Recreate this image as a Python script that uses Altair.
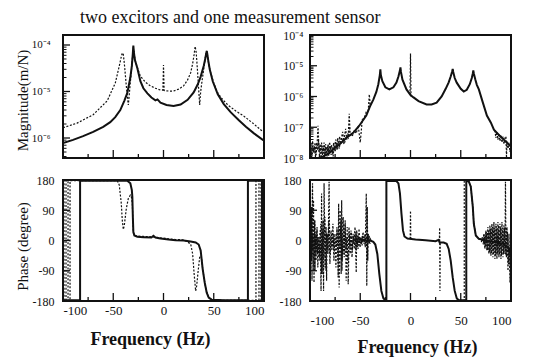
import altair as alt
import pandas as pd

FONT = "Liberation Serif"
INK = "#111111"

# ---------------- top-left magnitude (log10 of m/N) ----------------
TL_F_SOLID = [-100, -90, -80, -70, -60, -53, -48, -43, -39, -36, -33, -31.5, -30.5, -30, -29.5, -28.5,
              -26, -23, -20, -16, -12, -8, -6, -3, 3, 10, 17, 24, 30, 34, 37, 40, 41.5, 42.5, 43, 43.5,
              44.5, 46, 49, 54, 60, 67, 75, 82, 90, 100]
TL_M_SOLID = [-6.11, -6.04, -5.96, -5.87, -5.76, -5.66, -5.55, -5.40, -5.20, -5.03, -4.70, -4.45, -4.18,
              -4.01, -4.15, -4.32, -4.50, -4.78, -4.93, -5.04, -5.13, -5.19, -5.17, -5.24, -5.29, -5.31,
              -5.28, -5.18, -5.02, -4.85, -4.68, -4.45, -4.30, -4.18, -4.13, -4.18, -4.33, -4.52, -4.78,
              -5.06, -5.27, -5.45, -5.62, -5.76, -5.90, -6.06]
TL_F_DOT = [-100, -86, -70, -56, -48, -44, -42, -41, -40, -39, -37, -35.5, -35, -34, -33, -31.5, -30.5,
            -30, -29.5, -28, -25, -23, -18, -13, -8, -3, -0.6, 0, 0.6, 5, 10, 15, 20, 24, 27, 29, 30.5,
            31.5, 32.5, 33.5, 35, 36, 37, 38.5, 40.5, 42, 43, 44, 45, 47, 50, 54, 58, 64, 72, 80, 90, 97, 100]
TL_M_DOT = [-5.78, -5.68, -5.50, -5.20, -4.82, -4.45, -4.25, -4.17, -4.20, -4.39, -4.88, -5.20, -5.29,
            -5.05, -4.80, -4.45, -4.15, -4.05, -4.15, -4.35, -4.55, -4.67, -4.80, -4.88, -4.93, -4.97,
            -4.97, -4.43, -4.98, -4.99, -4.99, -4.95, -4.88, -4.75, -4.60, -4.40, -4.20, -4.03, -4.15,
            -4.45, -4.95, -5.29, -5.00, -4.75, -4.45, -4.20, -4.13, -4.25, -4.42, -4.60, -4.82, -5.03,
            -5.15, -5.29, -5.42, -5.53, -5.70, -5.83, -5.87]

# ---------------- top-right magnitude ----------------
TR_F_SOLID = [-92, -87, -81, -76, -71, -64, -57, -51, -44, -40, -37, -34, -32, -30.5, -30, -29.5, -28,
              -25, -21, -17, -14, -12, -10.5, -10, -9.5, -8, -4, 0, 3, 8, 16, 21, 26, 31, 35, 38, 40,
              41.5, 42, 42.5, 44, 46, 50, 53, 56, 59, 61, 62, 62.5, 63, 64.5, 66, 68, 72, 76, 80, 83,
              88, 93, 98, 100]
TR_M_SOLID = [-8.0, -7.95, -7.84, -7.70, -7.57, -7.35, -7.18, -6.95, -6.62, -6.30, -6.10, -5.85, -5.60,
              -5.30, -5.12, -5.30, -5.50, -5.70, -5.77, -5.70, -5.55, -5.35, -5.15, -5.05, -5.20, -5.45,
              -5.77, -5.95, -6.03, -6.15, -6.26, -6.26, -6.20, -6.00, -5.75, -5.54, -5.35, -5.18, -5.10,
              -5.20, -5.40, -5.55, -5.75, -5.84, -5.78, -5.60, -5.40, -5.25, -5.15, -5.25, -5.45, -5.62,
              -5.77, -6.20, -6.62, -6.85, -7.08, -7.25, -7.41, -7.57, -7.62]
TR_F_NOISE_L = [-100, -99, -98, -97, -96, -95, -94, -93, -92, -91, -90, -89, -88, -87, -86, -85, -84,
                -83, -82, -81, -80, -79, -78, -77, -76, -75, -74, -73, -72, -71, -70, -68, -66, -64,
                -62, -61, -60, -58, -56, -54, -52, -50, -48, -46, -44, -42, -41, -40]
TR_M_NOISE_L = [-7.90, -7.55, -7.95, -7.65, -7.85, -7.50, -7.90, -7.60, -6.95, -7.80, -7.55, -7.95,
                -7.60, -7.85, -7.50, -7.90, -7.65, -7.95, -7.55, -7.85, -7.60, -7.90, -7.70, -7.95,
                -7.60, -7.80, -7.55, -7.75, -7.45, -7.70, -7.50, -7.40, -7.55, -7.30, -7.35, -6.56,
                -7.25, -7.30, -7.10, -7.20, -6.95, -7.50, -6.75, -6.70, -6.50, -6.45, -5.93, -6.30]
TR_F_NOISE_L2 = [-99.5, -98.5, -97.5, -96.5, -95.5, -94.5, -93.5, -92.5, -91.5, -90.5, -89.5, -88.5,
                 -87.5, -86.5, -85.5, -84.5, -83.5, -82.5, -81.5, -80.5, -79.5, -78.5, -77.5, -76.5,
                 -75.5, -74.5, -73.5, -72.5, -71.5, -70.5, -69.5, -68.5, -67.5, -66.5, -65.5, -64.5,
                 -63.5, -62.5, -61.5, -60.5]
TR_M_NOISE_L2 = [-7.70, -7.98, -7.45, -7.80, -7.62, -7.98, -7.50, -7.75, -7.45, -7.98, -7.70, -7.50,
                 -7.90, -7.65, -7.98, -7.55, -7.80, -7.62, -7.95, -7.48, -7.75, -7.58, -7.85, -7.50,
                 -7.70, -7.40, -7.65, -7.35, -7.60, -7.30, -7.55, -7.32, -7.15, -7.45, -7.25, -7.05,
                 -7.40, -7.20, -7.30, -7.00]
TR_F_SPIKE = [-0.5, 0, 0.5]
TR_M_SPIKE = [-5.95, -4.60, -6.00]
TR_F_NOISE_R = [84, 85, 86, 87, 88, 89, 90, 91, 92, 93, 94, 95, 95.5, 96, 97, 98, 99, 100]
TR_M_NOISE_R = [-7.10, -7.35, -7.15, -7.40, -7.20, -7.45, -7.25, -7.50, -7.30, -7.55, -7.35, -7.30,
                -8.00, -7.45, -7.70, -7.50, -7.80, -7.60]

# ---------------- bottom-left phase (degree) ----------------
BL_F_SOLID = [-100, -83, -83, -36, -33, -31.5, -31, -30.5, -30, -29, -26, -20, -12, -10, -8, -3, 5, 12,
              20, 27, 32, 35, 37, 39, 41, 43, 45, 48, 60, 84, 84, 98, 98, 100]
BL_P_SOLID = [-178, -178, 178, 178, 170, 150, 130, 70, 25, 15, 11, 10, 9, 14, 9, 6, 3, 1, 0, -3, -6,
              -12, -30, -85, -125, -155, -170, -176, -178, -178, 178, 178, -178, -178]
BL_F_DOT = [-100, -99, -99, -97, -97, -95, -95, -93, -93, -46, -44, -42, -41, -40, -39, -37, -35, -33,
            -32, -31, -30.5, -30, -29, -26, -20, -12, -3, 5, 12, 20, 27, 29, 30.5, 32, 33, 34.5, 36,
            37.5, 39, 41, 43, 45, 48, 60, 92, 92, 95, 95, 97, 97, 100]
BL_P_DOT = [178, 178, -178, -178, 178, 178, -178, -178, 178, 178, 165, 110, 60, 33, 45, 95, 125, 135,
            130, 110, 60, 25, 16, 13, 12, 11, 8, 5, 3, 2, -10, -40, -100, -150, -135, -90, -50, -45,
            -85, -125, -155, -170, -176, -178, -178, 178, 178, -178, -178, 178, 178]

# ---------------- bottom-right phase (degree) ----------------
BR_F_SOLID = [-52, -45, -40, -37, -35, -33, -31, -29, -27, -25, -24, -24, -14, -12, -10.5, -9, -7.5, -6,
              -3, 5, 15, 25, 28, 29, 33, 36, 38, 40, 42, 44, 46, 48, 55.5, 55.5, 58, 60, 62, 63, 65,
              68, 72, 78, 85, 92, 97, 100]
BR_P_SOLID = [3, 1, 0, -4, -12, -40, -100, -150, -172, -178, -178, 178, 177, 170, 140, 80, 30, 12, 6,
              3, 1, -2, 2, -6, -6, -10, -25, -60, -110, -150, -172, -178, -178, 178, 176, 160, 100,
              50, 15, 5, 2, -2, -5, -10, -20, -40]
BR_F_NOISE_L = [-99.5, -99, -98.5, -98, -97.5, -97, -96.5, -96, -95.5, -95, -94.5, -94, -93, -92.5, -92,
                -91, -90, -89, -88.5, -88, -87, -86.5, -86, -85, -84, -83.5, -83, -82, -81, -80.5, -80,
                -79, -78, -77, -76, -75, -74, -73, -72, -71.5, -71, -70, -69, -68.5, -68, -67, -66,
                -65, -64, -63, -62, -61, -60, -59, -58, -57, -56, -55, -54, -53.5, -53, -52, -51, -50,
                -49, -48, -47, -46, -45, -44, -43.5, -43, -42.5, -42, -41, -40, -39]
BR_P_NOISE_L = [150, -60, 100, -120, 170, -30, 120, -125, 60, -90, 20, -60, 40, -40, 10, -50, 30, -150,
                140, -100, 60, -150, 170, -80, 40, -120, 20, -30, 175, 0, -40, 30, -20, 20, -30, 10,
                -20, 30, -110, 110, -140, 90, -100, 120, -60, 70, -50, 60, -120, 40, -130, 20, -40, 25,
                -30, 15, -25, 20, -95, 30, -20, 15, -15, 10, -10, 15, -5, 10, -20, 140, -135, 100, -60,
                20, -10, 5, 0]
BR_F_NOISE_L2 = [-99.2, -98.2, -97.2, -96.2, -95.2, -94.2, -93.2, -92.2, -91.2, -90.2, -89.2, -88.2,
                 -87.2, -86.2, -85.2, -84.2, -83.2, -82.2, -81.2, -80.2, -79.2, -78.2, -77.2, -76.2,
                 -75.2, -74.2, -73.2, -72.2, -71.2, -70.2, -69.2, -68.2, -67.2, -66.2, -65.2, -64.2,
                 -63.2, -62.2, -61.2, -60.2, -59.2, -58.2, -57.2, -56.2, -55.2, -54.2, -53.2, -52.2,
                 -51.2, -50.2, -49.2, -48.2, -47.2, -46.2, -45.2, -44.2, -43.2, -42.2, -41.2, -40.2]
BR_P_NOISE_L2 = [40, -70, 20, -90, 60, -40, 30, -80, 10, -60, 50, -100, 30, -50, 70, -90, 20, -40, 60,
                 -70, 10, -30, 50, -60, 20, -80, 40, -50, 30, -20, 60, -90, 20, -40, 50, -30, 10, -60,
                 40, -20, 30, -50, 20, -10, 40, -30, 15, -25, 35, -20, 10, -15, 25, -10, 20, -15, 10,
                 -5, 15, -10]
BR_F_SPIKE0 = [-0.3, 0, 0.3]
BR_P_SPIKE0 = [5, 88, 5]
BR_F_SPIKE29 = [28.7, 29, 29.3, 29.6]
BR_P_SPIKE29 = [-2, 38, -150, -4]
BR_F_WRAP = [46, 48, 53.5, 53.5, 55.5, 58, 60, 62, 63, 65, 68, 72]
BR_P_WRAP = [-172, -178, -178, 178, 178, 176, 160, 100, 50, 15, 5, 2]
BR_F_NOISE_R = [72, 73, 74, 75, 76, 77, 78, 79, 80, 81, 82, 83, 84, 85, 86, 87, 88, 89, 90, 91, 92, 93,
                94, 94.5, 95, 96, 97, 98, 99, 100]
BR_P_NOISE_R = [2, 20, -25, 30, -30, 40, -40, 45, -45, 50, -50, 55, -55, 50, -55, 55, -50, 50, -55, 55,
                -50, 45, -40, 175, -45, 40, -90, 20, -125, -60]
BR_F_NOISE_R2 = [70.5, 71.5, 72.5, 73.5, 74.5, 75.5, 76.5, 77.5, 78.5, 79.5, 80.5, 81.5, 82.5, 83.5,
                 84.5, 85.5, 86.5, 87.5, 88.5, 89.5, 90.5, 91.5, 92.5, 93.5, 95.5, 96.5, 97.5, 98.5, 99.5]
BR_P_NOISE_R2 = [-5, 10, -12, 18, -20, 25, -28, 30, -35, 35, -38, 40, -42, 38, -45, 42, -40, 45, -42,
                 40, -45, 38, -40, 35, -50, 25, -70, -20, -100]

X_TICKS_MAJOR = [-50, 0, 50]
X_TICKS_MINOR = [-75, -25, 25, 75]
PHASE_TICKS = [-90, 0, 90]


def frame(f, v, seg=0):
    return pd.DataFrame({"f": f, "v": v, "seg": seg, "i": range(len(f))})


def logframe(f, m, seg=0):
    return frame(f, [10 ** x for x in m], seg)


def build(solid, dotted, yscale, yaxis, xaxis, w, h, ymajor, yminor, major_len=8, minor_len=4):
    xs = alt.Scale(domain=[-100, 100], nice=False, zero=False)
    X = lambda: alt.X("f:Q", scale=xs, axis=xaxis)
    Y = lambda: alt.Y("v:Q", scale=yscale, axis=yaxis)
    layers = [
        alt.Chart(dotted).mark_line(color=INK, strokeWidth=1.2, strokeDash=[2, 1.6], clip=True)
        .encode(x=X(), y=Y(), detail="seg:N", order="i:Q"),
        alt.Chart(solid).mark_line(color=INK, strokeWidth=2, clip=True)
        .encode(x=X(), y=Y(), detail="seg:N", order="i:Q"),
        alt.Chart(pd.DataFrame({"f": X_TICKS_MAJOR})).mark_rule(color=INK, strokeWidth=1.3)
        .encode(x=X(), y=alt.value(h), y2=alt.value(h - major_len)),
        alt.Chart(pd.DataFrame({"f": X_TICKS_MINOR})).mark_rule(color=INK, strokeWidth=1.3)
        .encode(x=X(), y=alt.value(h), y2=alt.value(h - minor_len)),
        alt.Chart(pd.DataFrame({"v": ymajor})).mark_rule(color=INK, strokeWidth=1.3)
        .encode(y=Y(), x=alt.value(0), x2=alt.value(7)),
    ]
    if yminor:
        layers.append(alt.Chart(pd.DataFrame({"v": yminor})).mark_rule(color=INK, strokeWidth=1)
                      .encode(y=Y(), x=alt.value(0), x2=alt.value(3.5)))
    return alt.layer(*layers).properties(width=w, height=h)


SUP = ("datum.value > 5e-5 ? '10⁻⁴' : datum.value > 5e-6 ? '10⁻⁵' : datum.value > 5e-7 ? '10⁻⁶'"
       " : datum.value > 5e-8 ? '10⁻⁷' : '10⁻⁸'")


def minor_logs(lo, hi):
    out = []
    for e in range(-9, -2):
        for k in range(2, 10):
            val = k * 10.0 ** e
            if lo < val < hi:
                out.append(val)
    return out


AX = dict(labelFont=FONT, titleFont=FONT, labelColor=INK, titleColor=INK, ticks=False, domain=False,
          grid=False)

# ---- top-left
tl_lo, tl_hi = 10 ** -6.43, 10 ** -3.785
TL = build(
    logframe(TL_F_SOLID, TL_M_SOLID), logframe(TL_F_DOT, TL_M_DOT),
    alt.Scale(type="log", domain=[tl_lo, tl_hi], nice=False),
    alt.Axis(values=[1e-6, 1e-5, 1e-4], labelExpr=SUP, labelFontSize=11, labelPadding=13,
             title="Magnitude(m/N)", titleFontSize=15, titleFontWeight="normal", titleAngle=-90,
             titleBaseline="middle", titleAlign="center", titleX=-41, titleY=65, **AX),
    None, 201, 123, [1e-6, 1e-5, 1e-4], minor_logs(tl_lo, tl_hi))

# ---- top-right
TR_DOT = pd.concat([logframe(TR_F_NOISE_L, TR_M_NOISE_L, 0), logframe(TR_F_SPIKE, TR_M_SPIKE, 1),
                    logframe(TR_F_NOISE_R, TR_M_NOISE_R, 2), logframe(TR_F_NOISE_L2, TR_M_NOISE_L2, 3)])
TR = build(
    logframe(TR_F_SOLID, TR_M_SOLID), TR_DOT,
    alt.Scale(type="log", domain=[1e-8, 1e-4], nice=False),
    alt.Axis(values=[1e-8, 1e-7, 1e-6, 1e-5, 1e-4], labelExpr=SUP, labelFontSize=12, labelPadding=7,
             title=None, **AX),
    None, 201, 123, [1e-8, 1e-7, 1e-6, 1e-5, 1e-4], minor_logs(1e-8, 1e-4))

phase_scale = alt.Scale(domain=[-180, 180], nice=False, zero=False)


def phase_axis(title):
    kw = dict(values=[-180, -90, 0, 90, 180], labelExpr="'' + datum.value", labelFontSize=12,
              labelPadding=9, **AX)
    if title:
        kw.update(title=title, titleFontSize=15, titleFontWeight="normal", titleAngle=-90,
                  titleBaseline="middle", titleAlign="center", titleX=-41, titleY=66)
    else:
        kw.update(title=None)
    return alt.Axis(**kw)


def freq_axis(pad, tx, ty):
    return alt.Axis(values=[-100, -50, 0, 50, 100], labelExpr="'' + datum.value", labelFontSize=13,
                    labelPadding=pad, title="Frequency (Hz)", titleFontSize=18, titleFontWeight="bold",
                    titleX=tx, titleY=ty, titleBaseline="middle", titleAlign="center", **AX)


BL = build(frame(BL_F_SOLID, BL_P_SOLID), frame(BL_F_DOT, BL_P_DOT), phase_scale,
           phase_axis("Phase (degree)"), freq_axis(3, 87, 38), 201, 121, PHASE_TICKS, [])

BR_DOT = pd.concat([frame(BR_F_NOISE_L, BR_P_NOISE_L, 0), frame(BR_F_SPIKE0, BR_P_SPIKE0, 1),
                    frame(BR_F_SPIKE29, BR_P_SPIKE29, 2), frame(BR_F_WRAP, BR_P_WRAP, 3),
                    frame(BR_F_NOISE_R, BR_P_NOISE_R, 4), frame(BR_F_NOISE_L2, BR_P_NOISE_L2, 5),
                    frame(BR_F_NOISE_R2, BR_P_NOISE_R2, 6)])
BR = build(frame(BR_F_SOLID, BR_P_SOLID), BR_DOT, phase_scale, phase_axis(None),
           freq_axis(13, 107, 46), 201, 121, PHASE_TICKS, [])

chart = alt.concat(TL, TR, BL, BR, columns=2, spacing={"row": 22, "column": 46},
                   bounds="flush").properties(
    title=alt.TitleParams("two excitors and one measurement sensor", font=FONT, fontSize=18,
                          fontWeight="normal", anchor="start", dx=66, offset=1, color=INK),
    padding={"left": 5, "top": 1, "right": 5, "bottom": 5},
    background="white",
).configure_view(stroke=INK, strokeWidth=2)

chart.save("out.html", embed_options={"renderer": "svg", "actions": False})
